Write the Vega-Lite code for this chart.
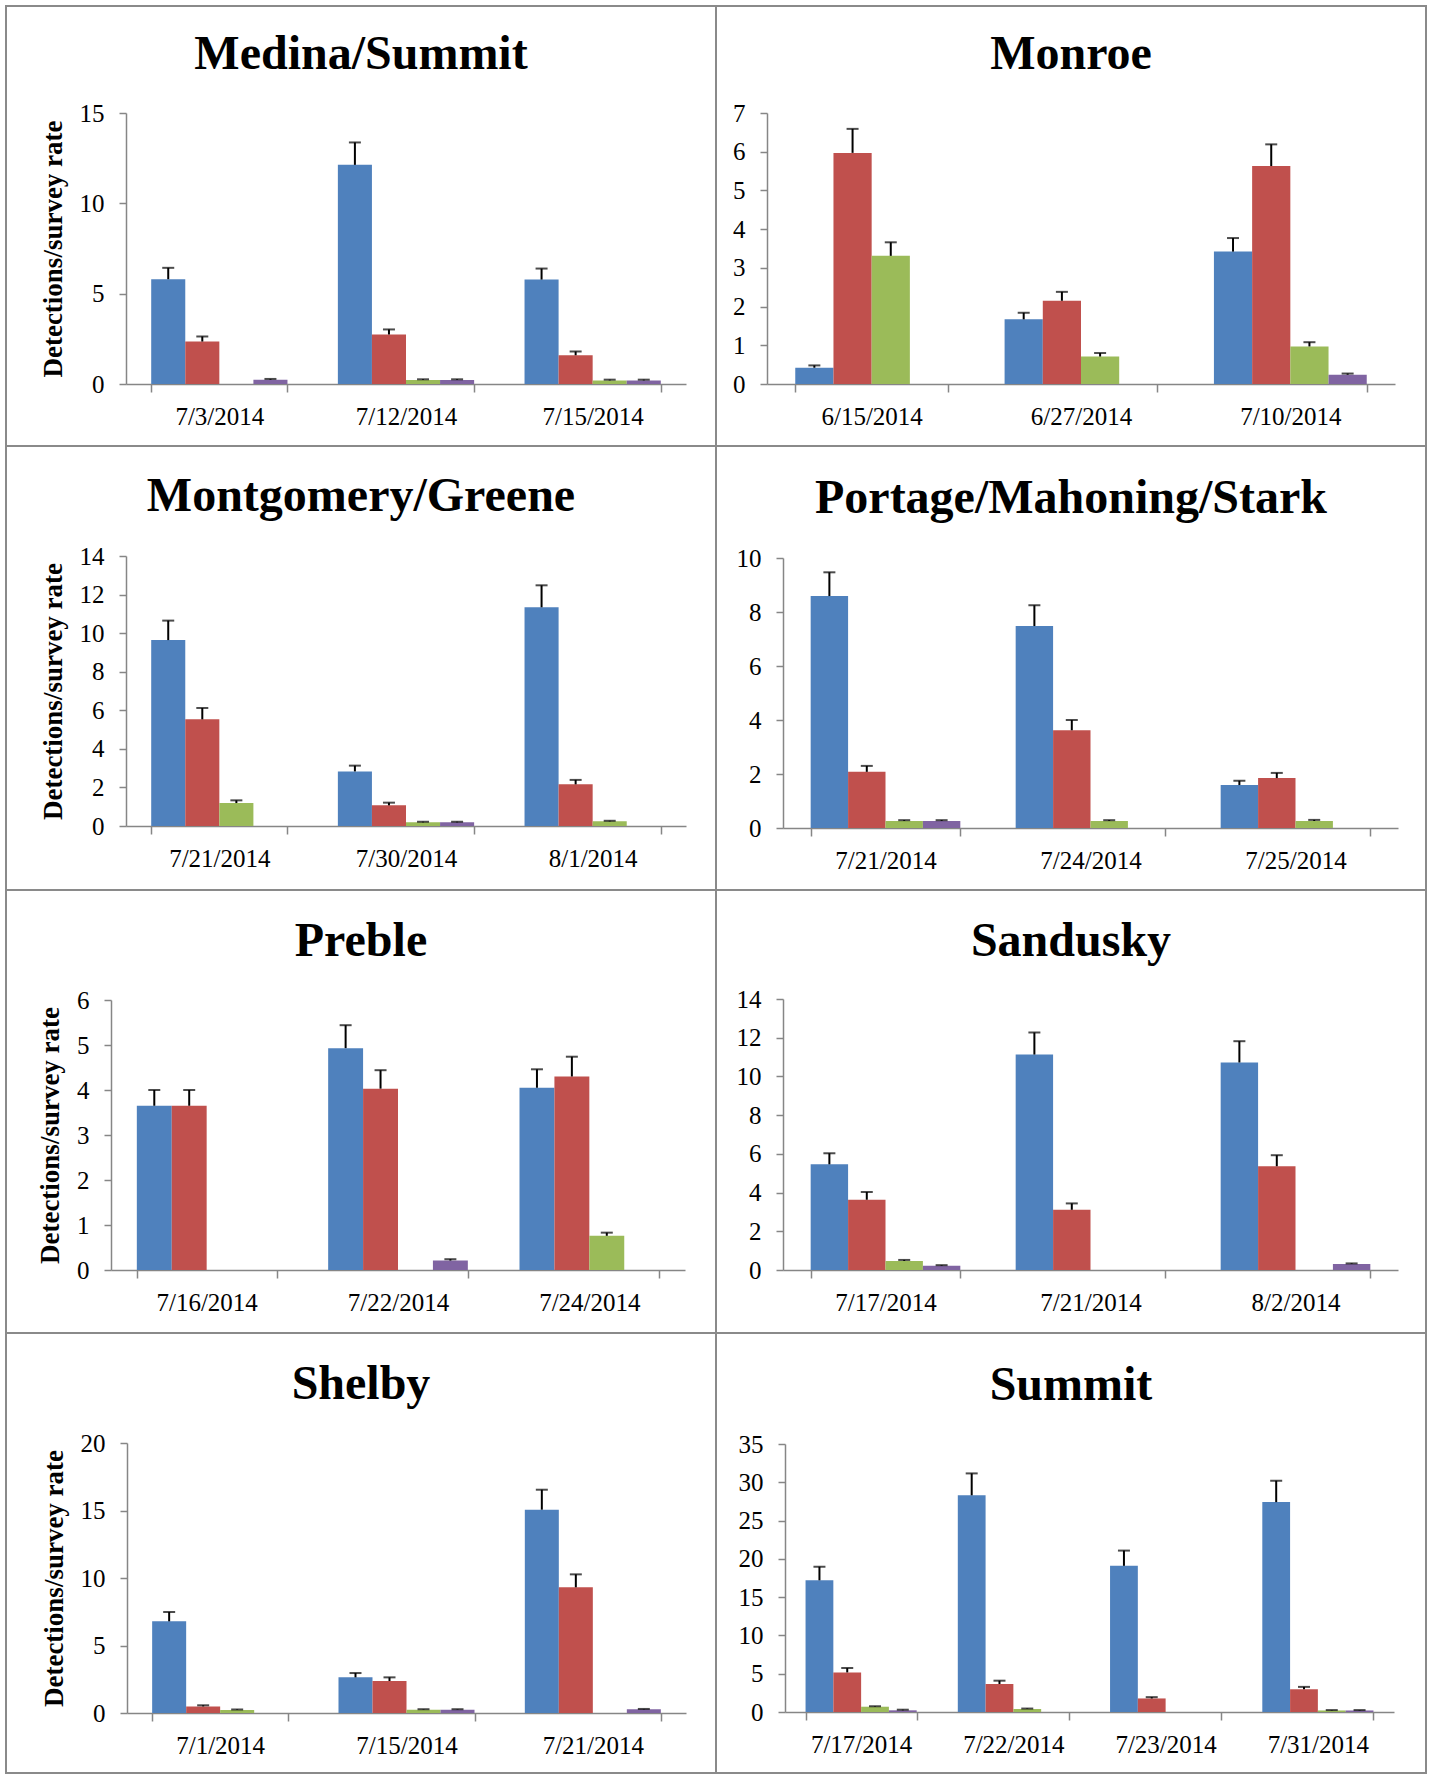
{
  "$schema": "https://vega.github.io/schema/vega-lite/v6.json",
  "padding": {"left": 5, "top": 5, "right": 0, "bottom": 0},
  "background": "white",
  "data": {"values": [
    {"county": "Medina/Summit", "date": "7/3/2014", "series": "S1", "value": 5.8, "upper": 6.43},
    {"county": "Medina/Summit", "date": "7/3/2014", "series": "S2", "value": 2.35, "upper": 2.63},
    {"county": "Medina/Summit", "date": "7/3/2014", "series": "S3", "value": 0, "upper": 0},
    {"county": "Medina/Summit", "date": "7/3/2014", "series": "S4", "value": 0.24, "upper": 0.28},
    {"county": "Medina/Summit", "date": "7/12/2014", "series": "S1", "value": 12.13, "upper": 13.37},
    {"county": "Medina/Summit", "date": "7/12/2014", "series": "S2", "value": 2.74, "upper": 3.02},
    {"county": "Medina/Summit", "date": "7/12/2014", "series": "S3", "value": 0.22, "upper": 0.26},
    {"county": "Medina/Summit", "date": "7/12/2014", "series": "S4", "value": 0.22, "upper": 0.26},
    {"county": "Medina/Summit", "date": "7/15/2014", "series": "S1", "value": 5.78, "upper": 6.39},
    {"county": "Medina/Summit", "date": "7/15/2014", "series": "S2", "value": 1.59, "upper": 1.8},
    {"county": "Medina/Summit", "date": "7/15/2014", "series": "S3", "value": 0.2, "upper": 0.24},
    {"county": "Medina/Summit", "date": "7/15/2014", "series": "S4", "value": 0.2, "upper": 0.24},

    {"county": "Monroe", "date": "6/15/2014", "series": "S1", "value": 0.42, "upper": 0.48},
    {"county": "Monroe", "date": "6/15/2014", "series": "S2", "value": 5.97, "upper": 6.59},
    {"county": "Monroe", "date": "6/15/2014", "series": "S3", "value": 3.31, "upper": 3.66},
    {"county": "Monroe", "date": "6/15/2014", "series": "S4", "value": 0, "upper": 0},
    {"county": "Monroe", "date": "6/27/2014", "series": "S1", "value": 1.67, "upper": 1.84},
    {"county": "Monroe", "date": "6/27/2014", "series": "S2", "value": 2.15, "upper": 2.38},
    {"county": "Monroe", "date": "6/27/2014", "series": "S3", "value": 0.71, "upper": 0.8},
    {"county": "Monroe", "date": "6/27/2014", "series": "S4", "value": 0, "upper": 0},
    {"county": "Monroe", "date": "7/10/2014", "series": "S1", "value": 3.42, "upper": 3.77},
    {"county": "Monroe", "date": "7/10/2014", "series": "S2", "value": 5.63, "upper": 6.19},
    {"county": "Monroe", "date": "7/10/2014", "series": "S3", "value": 0.97, "upper": 1.08},
    {"county": "Monroe", "date": "7/10/2014", "series": "S4", "value": 0.24, "upper": 0.27},

    {"county": "Montgomery/Greene", "date": "7/21/2014", "series": "S1", "value": 9.64, "upper": 10.65},
    {"county": "Montgomery/Greene", "date": "7/21/2014", "series": "S2", "value": 5.53, "upper": 6.12},
    {"county": "Montgomery/Greene", "date": "7/21/2014", "series": "S3", "value": 1.19, "upper": 1.33},
    {"county": "Montgomery/Greene", "date": "7/21/2014", "series": "S4", "value": 0, "upper": 0},
    {"county": "Montgomery/Greene", "date": "7/30/2014", "series": "S1", "value": 2.83, "upper": 3.13},
    {"county": "Montgomery/Greene", "date": "7/30/2014", "series": "S2", "value": 1.07, "upper": 1.21},
    {"county": "Montgomery/Greene", "date": "7/30/2014", "series": "S3", "value": 0.19, "upper": 0.22},
    {"county": "Montgomery/Greene", "date": "7/30/2014", "series": "S4", "value": 0.19, "upper": 0.22},
    {"county": "Montgomery/Greene", "date": "8/1/2014", "series": "S1", "value": 11.34, "upper": 12.48},
    {"county": "Montgomery/Greene", "date": "8/1/2014", "series": "S2", "value": 2.16, "upper": 2.39},
    {"county": "Montgomery/Greene", "date": "8/1/2014", "series": "S3", "value": 0.24, "upper": 0.27},
    {"county": "Montgomery/Greene", "date": "8/1/2014", "series": "S4", "value": 0, "upper": 0},

    {"county": "Portage/Mahoning/Stark", "date": "7/21/2014", "series": "S1", "value": 8.59, "upper": 9.47},
    {"county": "Portage/Mahoning/Stark", "date": "7/21/2014", "series": "S2", "value": 2.08, "upper": 2.3},
    {"county": "Portage/Mahoning/Stark", "date": "7/21/2014", "series": "S3", "value": 0.26, "upper": 0.29},
    {"county": "Portage/Mahoning/Stark", "date": "7/21/2014", "series": "S4", "value": 0.26, "upper": 0.29},
    {"county": "Portage/Mahoning/Stark", "date": "7/24/2014", "series": "S1", "value": 7.48, "upper": 8.25},
    {"county": "Portage/Mahoning/Stark", "date": "7/24/2014", "series": "S2", "value": 3.62, "upper": 4.0},
    {"county": "Portage/Mahoning/Stark", "date": "7/24/2014", "series": "S3", "value": 0.26, "upper": 0.29},
    {"county": "Portage/Mahoning/Stark", "date": "7/24/2014", "series": "S4", "value": 0, "upper": 0},
    {"county": "Portage/Mahoning/Stark", "date": "7/25/2014", "series": "S1", "value": 1.59, "upper": 1.75},
    {"county": "Portage/Mahoning/Stark", "date": "7/25/2014", "series": "S2", "value": 1.85, "upper": 2.04},
    {"county": "Portage/Mahoning/Stark", "date": "7/25/2014", "series": "S3", "value": 0.26, "upper": 0.3},
    {"county": "Portage/Mahoning/Stark", "date": "7/25/2014", "series": "S4", "value": 0, "upper": 0},

    {"county": "Preble", "date": "7/16/2014", "series": "S1", "value": 3.65, "upper": 4.0},
    {"county": "Preble", "date": "7/16/2014", "series": "S2", "value": 3.65, "upper": 4.0},
    {"county": "Preble", "date": "7/16/2014", "series": "S3", "value": 0, "upper": 0},
    {"county": "Preble", "date": "7/16/2014", "series": "S4", "value": 0, "upper": 0},
    {"county": "Preble", "date": "7/22/2014", "series": "S1", "value": 4.93, "upper": 5.44},
    {"county": "Preble", "date": "7/22/2014", "series": "S2", "value": 4.03, "upper": 4.44},
    {"county": "Preble", "date": "7/22/2014", "series": "S3", "value": 0, "upper": 0},
    {"county": "Preble", "date": "7/22/2014", "series": "S4", "value": 0.21, "upper": 0.24},
    {"county": "Preble", "date": "7/24/2014", "series": "S1", "value": 4.05, "upper": 4.46},
    {"county": "Preble", "date": "7/24/2014", "series": "S2", "value": 4.3, "upper": 4.74},
    {"county": "Preble", "date": "7/24/2014", "series": "S3", "value": 0.76, "upper": 0.83},
    {"county": "Preble", "date": "7/24/2014", "series": "S4", "value": 0, "upper": 0},

    {"county": "Sandusky", "date": "7/17/2014", "series": "S1", "value": 5.46, "upper": 6.03},
    {"county": "Sandusky", "date": "7/17/2014", "series": "S2", "value": 3.63, "upper": 4.03},
    {"county": "Sandusky", "date": "7/17/2014", "series": "S3", "value": 0.47, "upper": 0.52},
    {"county": "Sandusky", "date": "7/17/2014", "series": "S4", "value": 0.22, "upper": 0.25},
    {"county": "Sandusky", "date": "7/21/2014", "series": "S1", "value": 11.13, "upper": 12.27},
    {"county": "Sandusky", "date": "7/21/2014", "series": "S2", "value": 3.11, "upper": 3.44},
    {"county": "Sandusky", "date": "7/21/2014", "series": "S3", "value": 0, "upper": 0},
    {"county": "Sandusky", "date": "7/21/2014", "series": "S4", "value": 0, "upper": 0},
    {"county": "Sandusky", "date": "8/2/2014", "series": "S1", "value": 10.72, "upper": 11.82},
    {"county": "Sandusky", "date": "8/2/2014", "series": "S2", "value": 5.36, "upper": 5.93},
    {"county": "Sandusky", "date": "8/2/2014", "series": "S3", "value": 0, "upper": 0},
    {"county": "Sandusky", "date": "8/2/2014", "series": "S4", "value": 0.31, "upper": 0.34},

    {"county": "Shelby", "date": "7/1/2014", "series": "S1", "value": 6.79, "upper": 7.48},
    {"county": "Shelby", "date": "7/1/2014", "series": "S2", "value": 0.49, "upper": 0.57},
    {"county": "Shelby", "date": "7/1/2014", "series": "S3", "value": 0.22, "upper": 0.26},
    {"county": "Shelby", "date": "7/1/2014", "series": "S4", "value": 0, "upper": 0},
    {"county": "Shelby", "date": "7/15/2014", "series": "S1", "value": 2.64, "upper": 2.96},
    {"county": "Shelby", "date": "7/15/2014", "series": "S2", "value": 2.37, "upper": 2.64},
    {"county": "Shelby", "date": "7/15/2014", "series": "S3", "value": 0.25, "upper": 0.28},
    {"county": "Shelby", "date": "7/15/2014", "series": "S4", "value": 0.25, "upper": 0.28},
    {"county": "Shelby", "date": "7/21/2014", "series": "S1", "value": 15.06, "upper": 16.54},
    {"county": "Shelby", "date": "7/21/2014", "series": "S2", "value": 9.31, "upper": 10.27},
    {"county": "Shelby", "date": "7/21/2014", "series": "S3", "value": 0, "upper": 0},
    {"county": "Shelby", "date": "7/21/2014", "series": "S4", "value": 0.27, "upper": 0.3},

    {"county": "Summit", "date": "7/17/2014", "series": "S1", "value": 17.2, "upper": 18.97},
    {"county": "Summit", "date": "7/17/2014", "series": "S2", "value": 5.17, "upper": 5.73},
    {"county": "Summit", "date": "7/17/2014", "series": "S3", "value": 0.69, "upper": 0.75},
    {"county": "Summit", "date": "7/17/2014", "series": "S4", "value": 0.22, "upper": 0.3},
    {"county": "Summit", "date": "7/22/2014", "series": "S1", "value": 28.3, "upper": 31.16},
    {"county": "Summit", "date": "7/22/2014", "series": "S2", "value": 3.66, "upper": 4.09},
    {"county": "Summit", "date": "7/22/2014", "series": "S3", "value": 0.39, "upper": 0.45},
    {"county": "Summit", "date": "7/22/2014", "series": "S4", "value": 0, "upper": 0},
    {"county": "Summit", "date": "7/23/2014", "series": "S1", "value": 19.09, "upper": 21.08},
    {"county": "Summit", "date": "7/23/2014", "series": "S2", "value": 1.77, "upper": 1.94},
    {"county": "Summit", "date": "7/23/2014", "series": "S3", "value": 0, "upper": 0},
    {"county": "Summit", "date": "7/23/2014", "series": "S4", "value": 0, "upper": 0},
    {"county": "Summit", "date": "7/31/2014", "series": "S1", "value": 27.41, "upper": 30.2},
    {"county": "Summit", "date": "7/31/2014", "series": "S2", "value": 2.97, "upper": 3.28},
    {"county": "Summit", "date": "7/31/2014", "series": "S3", "value": 0.2, "upper": 0.25},
    {"county": "Summit", "date": "7/31/2014", "series": "S4", "value": 0.2, "upper": 0.25}
  ]},
  "columns": 2,
  "spacing": 0,
  "bounds": "flush",
  "align": "each",
  "concat": [
    {
      "width": 710, "height": 440,
      "title": {"text": "Medina/Summit", "offset": -73},
      "transform": [{"filter": "datum.county === 'Medina/Summit'"}],
      "encoding": {
        "x": {"field": "date", "type": "nominal",
              "scale": {"domain": ["7/3/2014", "7/12/2014", "7/15/2014"], "range": [120, 680], "paddingInner": 0.27, "paddingOuter": 0.135},
              "axis": {"offset": -62, "title": null}},
        "xOffset": {"field": "series", "type": "nominal", "scale": {"domain": ["S1", "S2", "S3", "S4"], "paddingInner": 0, "paddingOuter": 0}},
        "y": {"field": "value", "type": "quantitative",
              "scale": {"domain": [0, 15], "range": [378, 107], "nice": false},
              "axis": {"values": [0, 5, 10, 15], "offset": -120, "title": "Detections/survey rate"}}
      },
      "layer": [
        {"mark": {"type": "bar"},
         "encoding": {"color": {"field": "series", "type": "nominal", "legend": null,
                      "scale": {"domain": ["S1", "S2", "S3", "S4"], "range": ["#4F81BD", "#C0504D", "#9BBB59", "#8064A2"]}}}},
        {"transform": [{"filter": "datum.upper > datum.value"}],
         "mark": {"type": "rule", "color": "black", "strokeWidth": 2},
         "encoding": {"y2": {"field": "upper"}}},
        {"transform": [{"filter": "datum.upper > datum.value"}],
         "mark": {"type": "tick", "color": "black", "thickness": 2, "size": 12},
         "encoding": {"y": {"field": "upper", "type": "quantitative"}}}
      ]
    },
    {
      "width": 710, "height": 440,
      "title": {"text": "Monroe", "offset": -73},
      "transform": [{"filter": "datum.county === 'Monroe'"}],
      "encoding": {
        "x": {"field": "date", "type": "nominal",
              "scale": {"domain": ["6/15/2014", "6/27/2014", "7/10/2014"], "range": [51, 679], "paddingInner": 0.27, "paddingOuter": 0.135},
              "axis": {"offset": -62, "title": null}},
        "xOffset": {"field": "series", "type": "nominal", "scale": {"domain": ["S1", "S2", "S3", "S4"], "paddingInner": 0, "paddingOuter": 0}},
        "y": {"field": "value", "type": "quantitative",
              "scale": {"domain": [0, 7], "range": [378, 107], "nice": false},
              "axis": {"values": [0, 1, 2, 3, 4, 5, 6, 7], "offset": -51, "title": null}}
      },
      "layer": [
        {"mark": {"type": "bar"},
         "encoding": {"color": {"field": "series", "type": "nominal", "legend": null,
                      "scale": {"domain": ["S1", "S2", "S3", "S4"], "range": ["#4F81BD", "#C0504D", "#9BBB59", "#8064A2"]}}}},
        {"transform": [{"filter": "datum.upper > datum.value"}],
         "mark": {"type": "rule", "color": "black", "strokeWidth": 2},
         "encoding": {"y2": {"field": "upper"}}},
        {"transform": [{"filter": "datum.upper > datum.value"}],
         "mark": {"type": "tick", "color": "black", "thickness": 2, "size": 12},
         "encoding": {"y": {"field": "upper", "type": "quantitative"}}}
      ]
    },
    {
      "width": 710, "height": 444,
      "title": {"text": "Montgomery/Greene", "offset": -75},
      "transform": [{"filter": "datum.county === 'Montgomery/Greene'"}],
      "encoding": {
        "x": {"field": "date", "type": "nominal",
              "scale": {"domain": ["7/21/2014", "7/30/2014", "8/1/2014"], "range": [120, 680], "paddingInner": 0.27, "paddingOuter": 0.135},
              "axis": {"offset": -64, "title": null}},
        "xOffset": {"field": "series", "type": "nominal", "scale": {"domain": ["S1", "S2", "S3", "S4"], "paddingInner": 0, "paddingOuter": 0}},
        "y": {"field": "value", "type": "quantitative",
              "scale": {"domain": [0, 14], "range": [380, 110], "nice": false},
              "axis": {"values": [0, 2, 4, 6, 8, 10, 12, 14], "offset": -120, "title": "Detections/survey rate"}}
      },
      "layer": [
        {"mark": {"type": "bar"},
         "encoding": {"color": {"field": "series", "type": "nominal", "legend": null,
                      "scale": {"domain": ["S1", "S2", "S3", "S4"], "range": ["#4F81BD", "#C0504D", "#9BBB59", "#8064A2"]}}}},
        {"transform": [{"filter": "datum.upper > datum.value"}],
         "mark": {"type": "rule", "color": "black", "strokeWidth": 2},
         "encoding": {"y2": {"field": "upper"}}},
        {"transform": [{"filter": "datum.upper > datum.value"}],
         "mark": {"type": "tick", "color": "black", "thickness": 2, "size": 12},
         "encoding": {"y": {"field": "upper", "type": "quantitative"}}}
      ]
    },
    {
      "width": 710, "height": 444,
      "title": {"text": "Portage/Mahoning/Stark", "offset": -77},
      "transform": [{"filter": "datum.county === 'Portage/Mahoning/Stark'"}],
      "encoding": {
        "x": {"field": "date", "type": "nominal",
              "scale": {"domain": ["7/21/2014", "7/24/2014", "7/25/2014"], "range": [67, 682], "paddingInner": 0.27, "paddingOuter": 0.135},
              "axis": {"offset": -62, "title": null}},
        "xOffset": {"field": "series", "type": "nominal", "scale": {"domain": ["S1", "S2", "S3", "S4"], "paddingInner": 0, "paddingOuter": 0}},
        "y": {"field": "value", "type": "quantitative",
              "scale": {"domain": [0, 10], "range": [382, 112], "nice": false},
              "axis": {"values": [0, 2, 4, 6, 8, 10], "offset": -67, "title": null}}
      },
      "layer": [
        {"mark": {"type": "bar"},
         "encoding": {"color": {"field": "series", "type": "nominal", "legend": null,
                      "scale": {"domain": ["S1", "S2", "S3", "S4"], "range": ["#4F81BD", "#C0504D", "#9BBB59", "#8064A2"]}}}},
        {"transform": [{"filter": "datum.upper > datum.value"}],
         "mark": {"type": "rule", "color": "black", "strokeWidth": 2},
         "encoding": {"y2": {"field": "upper"}}},
        {"transform": [{"filter": "datum.upper > datum.value"}],
         "mark": {"type": "tick", "color": "black", "thickness": 2, "size": 12},
         "encoding": {"y": {"field": "upper", "type": "quantitative"}}}
      ]
    },
    {
      "width": 710, "height": 443,
      "title": {"text": "Preble", "offset": -76},
      "transform": [{"filter": "datum.county === 'Preble'"}],
      "encoding": {
        "x": {"field": "date", "type": "nominal",
              "scale": {"domain": ["7/16/2014", "7/22/2014", "7/24/2014"], "range": [105, 679], "paddingInner": 0.27, "paddingOuter": 0.135},
              "axis": {"offset": -63, "title": null}},
        "xOffset": {"field": "series", "type": "nominal", "scale": {"domain": ["S1", "S2", "S3", "S4"], "paddingInner": 0, "paddingOuter": 0}},
        "y": {"field": "value", "type": "quantitative",
              "scale": {"domain": [0, 6], "range": [380, 110], "nice": false},
              "axis": {"values": [0, 1, 2, 3, 4, 5, 6], "offset": -105, "title": "Detections/survey rate"}}
      },
      "layer": [
        {"mark": {"type": "bar"},
         "encoding": {"color": {"field": "series", "type": "nominal", "legend": null,
                      "scale": {"domain": ["S1", "S2", "S3", "S4"], "range": ["#4F81BD", "#C0504D", "#9BBB59", "#8064A2"]}}}},
        {"transform": [{"filter": "datum.upper > datum.value"}],
         "mark": {"type": "rule", "color": "black", "strokeWidth": 2},
         "encoding": {"y2": {"field": "upper"}}},
        {"transform": [{"filter": "datum.upper > datum.value"}],
         "mark": {"type": "tick", "color": "black", "thickness": 2, "size": 12},
         "encoding": {"y": {"field": "upper", "type": "quantitative"}}}
      ]
    },
    {
      "width": 710, "height": 443,
      "title": {"text": "Sandusky", "offset": -76},
      "transform": [{"filter": "datum.county === 'Sandusky'"}],
      "encoding": {
        "x": {"field": "date", "type": "nominal",
              "scale": {"domain": ["7/17/2014", "7/21/2014", "8/2/2014"], "range": [67, 682], "paddingInner": 0.27, "paddingOuter": 0.135},
              "axis": {"offset": -63, "title": null}},
        "xOffset": {"field": "series", "type": "nominal", "scale": {"domain": ["S1", "S2", "S3", "S4"], "paddingInner": 0, "paddingOuter": 0}},
        "y": {"field": "value", "type": "quantitative",
              "scale": {"domain": [0, 14], "range": [380, 109], "nice": false},
              "axis": {"values": [0, 2, 4, 6, 8, 10, 12, 14], "offset": -67, "title": null}}
      },
      "layer": [
        {"mark": {"type": "bar"},
         "encoding": {"color": {"field": "series", "type": "nominal", "legend": null,
                      "scale": {"domain": ["S1", "S2", "S3", "S4"], "range": ["#4F81BD", "#C0504D", "#9BBB59", "#8064A2"]}}}},
        {"transform": [{"filter": "datum.upper > datum.value"}],
         "mark": {"type": "rule", "color": "black", "strokeWidth": 2},
         "encoding": {"y2": {"field": "upper"}}},
        {"transform": [{"filter": "datum.upper > datum.value"}],
         "mark": {"type": "tick", "color": "black", "thickness": 2, "size": 12},
         "encoding": {"y": {"field": "upper", "type": "quantitative"}}}
      ]
    },
    {
      "width": 710, "height": 440,
      "title": {"text": "Shelby", "offset": -76},
      "transform": [{"filter": "datum.county === 'Shelby'"}],
      "encoding": {
        "x": {"field": "date", "type": "nominal",
              "scale": {"domain": ["7/1/2014", "7/15/2014", "7/21/2014"], "range": [121, 680], "paddingInner": 0.27, "paddingOuter": 0.135},
              "axis": {"offset": -60, "title": null}},
        "xOffset": {"field": "series", "type": "nominal", "scale": {"domain": ["S1", "S2", "S3", "S4"], "paddingInner": 0, "paddingOuter": 0}},
        "y": {"field": "value", "type": "quantitative",
              "scale": {"domain": [0, 20], "range": [380, 110], "nice": false},
              "axis": {"values": [0, 5, 10, 15, 20], "offset": -121, "title": "Detections/survey rate"}}
      },
      "layer": [
        {"mark": {"type": "bar"},
         "encoding": {"color": {"field": "series", "type": "nominal", "legend": null,
                      "scale": {"domain": ["S1", "S2", "S3", "S4"], "range": ["#4F81BD", "#C0504D", "#9BBB59", "#8064A2"]}}}},
        {"transform": [{"filter": "datum.upper > datum.value"}],
         "mark": {"type": "rule", "color": "black", "strokeWidth": 2},
         "encoding": {"y2": {"field": "upper"}}},
        {"transform": [{"filter": "datum.upper > datum.value"}],
         "mark": {"type": "tick", "color": "black", "thickness": 2, "size": 12},
         "encoding": {"y": {"field": "upper", "type": "quantitative"}}}
      ]
    },
    {
      "width": 710, "height": 440,
      "title": {"text": "Summit", "offset": -77},
      "transform": [{"filter": "datum.county === 'Summit'"}],
      "encoding": {
        "x": {"field": "date", "type": "nominal",
              "scale": {"domain": ["7/17/2014", "7/22/2014", "7/23/2014", "7/31/2014"], "range": [69, 678], "paddingInner": 0.27, "paddingOuter": 0.135},
              "axis": {"offset": -61, "title": null}},
        "xOffset": {"field": "series", "type": "nominal", "scale": {"domain": ["S1", "S2", "S3", "S4"], "paddingInner": 0, "paddingOuter": 0}},
        "y": {"field": "value", "type": "quantitative",
              "scale": {"domain": [0, 35], "range": [379, 111], "nice": false},
              "axis": {"values": [0, 5, 10, 15, 20, 25, 30, 35], "offset": -69, "title": null}}
      },
      "layer": [
        {"mark": {"type": "bar"},
         "encoding": {"color": {"field": "series", "type": "nominal", "legend": null,
                      "scale": {"domain": ["S1", "S2", "S3", "S4"], "range": ["#4F81BD", "#C0504D", "#9BBB59", "#8064A2"]}}}},
        {"transform": [{"filter": "datum.upper > datum.value"}],
         "mark": {"type": "rule", "color": "black", "strokeWidth": 2},
         "encoding": {"y2": {"field": "upper"}}},
        {"transform": [{"filter": "datum.upper > datum.value"}],
         "mark": {"type": "tick", "color": "black", "thickness": 2, "size": 12},
         "encoding": {"y": {"field": "upper", "type": "quantitative"}}}
      ]
    }
  ],
  "resolve": {"scale": {"x": "independent", "y": "independent", "xOffset": "independent", "color": "shared"}},
  "config": {
    "font": "Liberation Serif",
    "view": {"stroke": "#8a8a8a", "strokeWidth": 2},
    "axis": {
      "grid": false,
      "labelFont": "Liberation Serif", "labelFontSize": 25, "labelColor": "#000000",
      "domainColor": "#868686", "domainWidth": 1.5, "tickColor": "#868686", "tickWidth": 1.5,
      "titleFont": "Liberation Serif", "titleFontSize": 27, "titleFontWeight": "bold", "titleColor": "#000000",
      "labelOverlap": false, "labelFlush": false
    },
    "axisX": {"labelAngle": 0, "tickBand": "extent", "tickSize": 8, "labelPadding": 12},
    "axisY": {"tickSize": 7, "labelPadding": 15, "titlePadding": 12},
    "title": {"font": "Liberation Serif", "fontSize": 48, "fontWeight": "bold", "color": "#000000", "anchor": "middle", "frame": "group", "baseline": "alphabetic"}
  }
}
